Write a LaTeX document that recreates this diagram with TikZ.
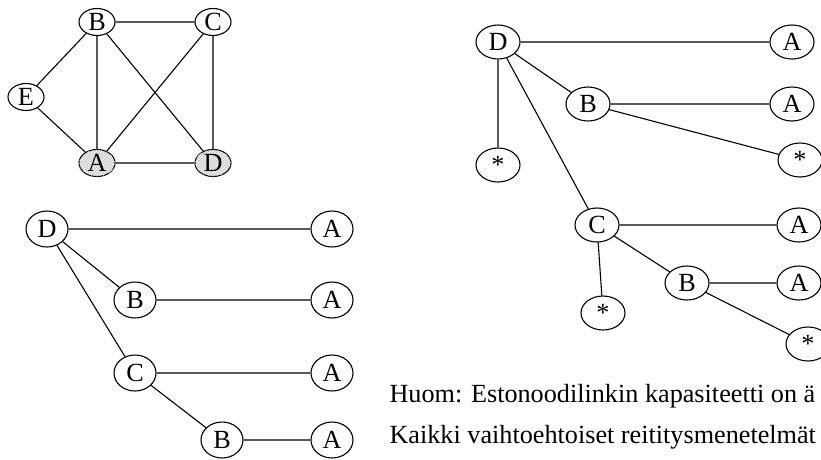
\documentclass[tikz,border=0pt]{standalone}
\usepackage{fontspec}
\setmainfont{Liberation Serif}
\usetikzlibrary{shapes.geometric,patterns,positioning}
\tikzset{
   routing/.style={%one pt per pixel of the sketch, y downwards
      x=1pt, y=-1pt,
      line width=1.1pt,
      every node/.style={font=\fontsize{26.2}{30}\selectfont, inner sep=0pt}},
   vx/.style={draw, ellipse, minimum width=36pt, minimum height=27pt},
   hatched/.style={fill=gray!12, postaction={pattern=north east lines, pattern color=gray!55}},
   tn/.style={draw, ellipse, minimum width=42pt, minimum height=36pt},
   rn/.style={draw, ellipse, minimum width=44pt, minimum height=34pt},
   note/.style={anchor=base west}
}

\begin{document}
\begin{tikzpicture}[routing]
  \path[use as bounding box, clip] (0,0) rectangle (821,459);
  % network
  \node[vx] (B) at (97,22) {B};
  \node[vx] (C) at (213,22) {C};
  \node[vx] (E) at (26,97) {E};
  \node[vx, hatched] (A) at (97,163) {A};
  \node[vx, hatched] (D) at (213,163) {D};
  \draw (B) -- (C) (B) -- (E) (B) -- (A) (B) -- (D);
  \draw (C) -- (A) (C) -- (D) (E) -- (A) (A) -- (D);
  % left tree
  \node[tn] (lD) at (47,229) {D};
  \node[tn] (lA1) at (332,229) {A};
  \node[tn] (lB) at (135,300) {B};
  \node[tn] (lA2) at (332,300) {A};
  \node[tn] (lC) at (135,373) {C};
  \node[tn] (lA3) at (332,373) {A};
  \node[tn] (lB2) at (222,440) {B};
  \node[tn] (lA4) at (332,440) {A};
  \draw (lD) -- (lA1) (lD) -- (lB) (lD) -- (lC);
  \draw (lB) -- (lA2) (lC) -- (lA3) (lC) -- (lB2) (lB2) -- (lA4);
  % right tree
  \node[rn] (rD) at (498,42) {D};
  \node[rn] (rA1) at (792,42) {A};
  \node[rn] (rB) at (588,104) {B};
  \node[rn] (rA2) at (792,104) {A};
  \node[rn] (rS1) at (498,165) {*};
  \node[rn] (rS2) at (800,160) {*};
  \node[rn] (rC) at (597,225) {C};
  \node[rn] (rA3) at (799,225) {A};
  \node[rn] (rB2) at (687,283) {B};
  \node[rn] (rA4) at (799,283) {A};
  \node[rn] (rS3) at (603,313) {*};
  \node[rn] (rS4) at (808,344) {*};
  \draw (rD) -- (rA1) (rD) -- (rB) (rD) -- (rS1) (rD) -- (rC);
  \draw (rB) -- (rA2) (rB) -- (rS2);
  \draw (rC) -- (rA3) (rC) -- (rB2) (rC) -- (rS3);
  \draw (rB2) -- (rA4) (rB2) -- (rS4);
  % notes
  \node[note] (n1) at (389,402) {Huom: Estonoodilinkin kapasiteetti on ä};
  \node[note] (n2) at (389,443) {Kaikki vaihtoehtoiset reititysmenetelmät};
\end{tikzpicture}
\end{document}
